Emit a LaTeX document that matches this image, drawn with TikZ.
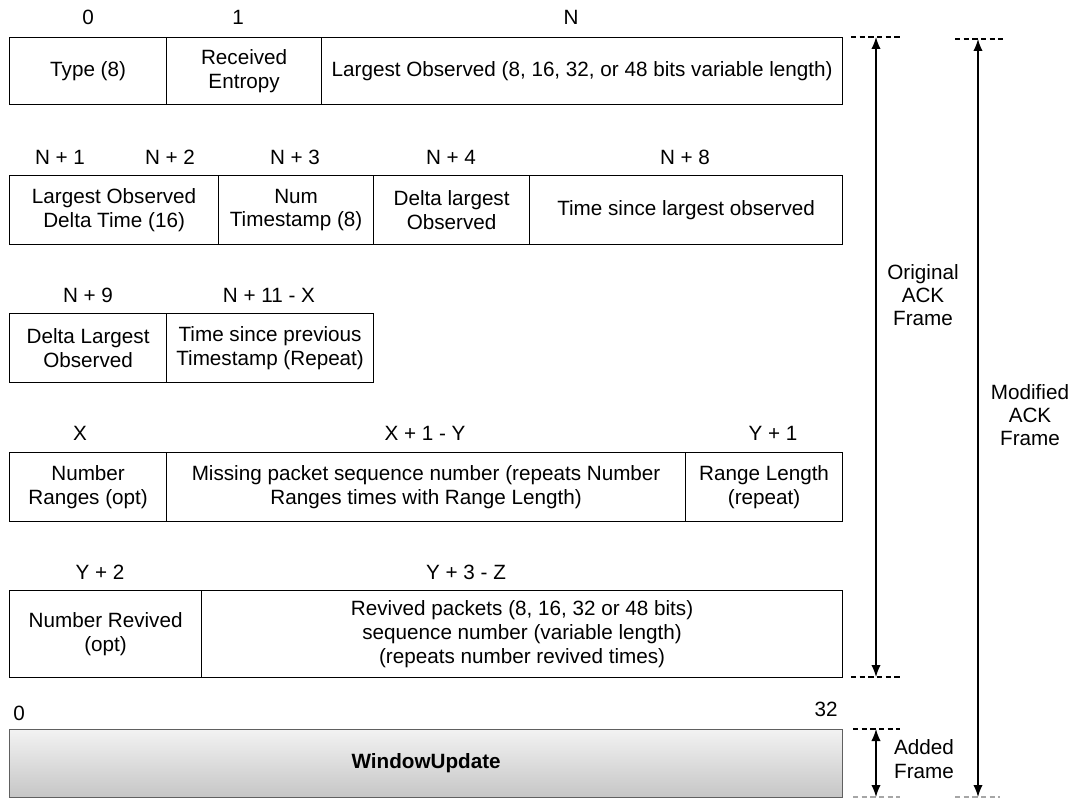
\documentclass[tikz,border=0pt]{standalone}
\usepackage{fontspec}
\setmainfont{Liberation Sans}
\usetikzlibrary{arrows.meta}
\begin{document}
\begin{tikzpicture}[x=0.75pt,y=-0.75pt,
  every node/.style={font=\fontsize{15.5}{17.5}\selectfont},
  cell/.style 2 args={draw, line width=0.9pt, minimum width=#1*0.75pt, minimum height=#2*0.75pt, anchor=north west, inner sep=0pt, align=center},
  lbl/.style={inner sep=0pt},
  guide/.style={line width=0.9pt, dash pattern=on 4pt off 2.5pt},
  guidegrey/.style={guide, draw=gray!70},
  dim/.style={line width=1pt, {Latex[length=9pt,width=7pt]}-{Latex[length=9pt,width=7pt]}}
]
\useasboundingbox (0,0) rectangle (1072,799);

% Row 1
\node[cell={157}{67}] (type) at (9,37) {Type (8)};
\node[cell={155}{67}] (entropy) at (166,37) {Received\\Entropy};
\node[cell={521}{67}] (largest) at (321,37) {Largest Observed (8, 16, 32, or 48 bits variable length)};
\node[lbl] (l0) at (88,17) {0};
\node[lbl] (l1) at (238,17) {1};
\node[lbl] (lN) at (571,17) {N};

% Row 2
\node[cell={209}{69}] (ldt) at (9,175) {Largest Observed\\Delta Time (16)};
\node[cell={155}{69}] (nts) at (218,175) {Num\\Timestamp (8)};
\node[cell={156}{69}] (dlo) at (373,175) {Delta largest\\Observed};
\node[cell={313}{69}] (tslo) at (529,175) {Time since largest observed};
\node[lbl] (ln1) at (60,157) {N + 1};
\node[lbl] (ln2) at (170,157) {N + 2};
\node[lbl] (ln3) at (295,157) {N + 3};
\node[lbl] (ln4) at (451,157) {N + 4};
\node[lbl] (ln8) at (685,157) {N + 8};

% Row 3
\node[cell={157}{69}] (dlo2) at (9,313) {Delta Largest\\Observed};
\node[cell={207}{69}] (tspt) at (166,313) {Time since previous\\Timestamp (Repeat)};
\node[lbl] (ln9) at (88,295) {N + 9};
\node[lbl] (ln11) at (269,295) {N + 11 - X};

% Row 4
\node[cell={157}{69}] (nr) at (9,452) {Number\\Ranges (opt)};
\node[cell={519}{69}] (mps) at (166,452) {Missing packet sequence number (repeats Number\\Ranges times with Range Length)};
\node[cell={157}{69}] (rl) at (685,452) {Range Length\\(repeat)};
\node[lbl] (lx) at (80,433) {X};
\node[lbl] (lx1) at (425,433) {X + 1 - Y};
\node[lbl] (ly1) at (773,433) {Y + 1};

% Row 5
\node[cell={192}{87}, font=\fontsize{15.5}{18.3}\selectfont] (nrev) at (9,590) {Number Revived\\(opt)};
\node[cell={641}{87}, font=\fontsize{15.5}{18.3}\selectfont] (revp) at (201,590) {Revived packets (8, 16, 32 or 48 bits)\\sequence number (variable length)\\(repeats number revived times)};
\node[lbl] (ly2) at (100,572) {Y + 2};
\node[lbl] (ly3) at (466,572) {Y + 3 - Z};

% Row 6
\node[cell={833}{68}, draw=gray!75!black, top color=gray!10, bottom color=gray!45, font=\fontsize{15.5}{17.5}\selectfont\bfseries] (wu) at (9,729) {WindowUpdate};
\node[lbl] (lw0) at (19,713) {0};
\node[lbl] (lw32) at (826,709) {32};

% Guides
\coordinate (oTop) at (876,37);
\coordinate (oBot) at (876,677);
\coordinate (mTop) at (978,39);
\coordinate (mBot) at (978,797);
\coordinate (aTop) at (876,729);
\coordinate (aBot) at (876,797);

\draw[guide] (851,37) -- (900,37);
\draw[guide] (851,677) -- (900,677);
\draw[guide] (955,39) -- (1003,39);
\draw[guide] (853,729) -- (900,729);
\draw[guidegrey] (853,797) -- (900,797);
\draw[guidegrey] (955,797) -- (1000,797);

\draw[dim] (oTop) -- (oBot);
\draw[dim] (mTop) -- (mBot);
\draw[dim] (aTop) -- (aBot);

\node[align=center, inner sep=0pt] (orig) at (923,295) {Original\\ACK\\Frame};
\node[align=center, inner sep=0pt] (mod) at (1030,415) {Modified\\ACK\\Frame};
\node[align=center, inner sep=0pt] (added) at (924,759) {Added\\Frame};
\end{tikzpicture}
\end{document}
